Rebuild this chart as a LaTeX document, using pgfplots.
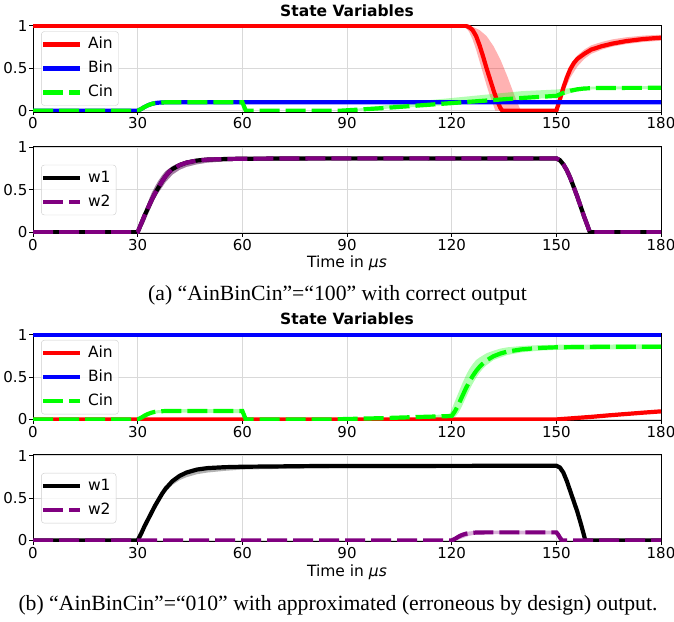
\documentclass[border=0pt]{standalone}
\usepackage{fontspec}
\setmainfont{Liberation Serif}
\newfontfamily\dv{DejaVu Sans}
\usepackage{pgfplots}
\pgfplotsset{compat=1.18}

\definecolor{mplgreen}{rgb}{0,1,0}
\definecolor{mplpurple}{rgb}{0.5,0,0.5}

\pgfplotsset{
  panel/.style={
    scale only axis, width=628pt, height=87pt,
    xmin=0, xmax=180, ymin=-0.015, ymax=1.01,
    xtick={0,30,...,180}, ytick={0,0.5,1},
    grid=major, major grid style={draw=black!15, line width=0.8pt},
    tick pos=left, tick align=outside, major tick length=3.5pt,
    tick style={black, line width=0.8pt}, axis line style={line width=0.9pt},
    /pgf/number format/assume math mode=true,
    tick label style={font=\dv\fontsize{15}{17}\selectfont, inner sep=2pt},
    legend style={at={(0.013,0.5)}, anchor=west, draw=black!20, rounded corners=3pt,
      fill=white, fill opacity=0.8, text opacity=1, inner xsep=0pt, inner ysep=6pt,
      row sep=10pt, font=\dv\fontsize{15.5}{18}\selectfont,
      nodes={inner xsep=5.5pt, inner ysep=0pt, text height=11.5pt, text depth=2.5pt}},
    legend cell align=left,
    legend image code/.code={\draw[#1] (0pt,0pt) -- (37pt,0pt);},
    title style={font=\dv\bfseries\fontsize{15.5}{18}\selectfont, yshift=-1pt},
    xlabel style={font=\dv\fontsize{15.5}{18}\selectfont, at={(0.5,0)}, anchor=base, yshift=-34.5pt},
  },
  band/.style={draw=none, fill=#1, fill opacity=0.3, forget plot},
  ln/.style={line width=4.2pt, #1},
  dsh/.style={line width=4.2pt, #1, dash pattern=on 20pt off 6pt},
}

\begin{document}
\begin{tikzpicture}
\path[use as bounding box] (0,0) rectangle (674pt,621pt);

% (a) top
\begin{axis}[panel, at={(33pt,509pt)}, anchor=south west, title={State Variables}]
\addplot[band=red] coordinates {(120,1) (124,1) (126,0.99) (128,0.95) (130,0.88) (132,0.76) (134,0.6) (136,0.4) (138,0.18) (139.5,0.03) (140,0) (150,0) (150.5,0.06) (151,0.17) (152,0.31) (153,0.43) (154,0.53) (156,0.65) (158,0.72) (160,0.77) (163,0.81) (166,0.84) (170,0.865) (175,0.885) (180,0.895)
 (180,0.825) (175,0.81) (170,0.785) (166,0.755) (163,0.72) (160,0.67) (158,0.61) (156,0.52) (154,0.39) (153,0.3) (152,0.2) (151,0.08) (150.5,0.01) (150,0) (132.5,0) (132,0.06) (131,0.17) (130,0.3) (129,0.44) (128,0.58) (127,0.72) (126,0.84) (125,0.93) (124,0.98) (123,1) (120,1)} -- cycle;
\addplot[band=mplgreen] coordinates {(88,0) (90,0.01) (100,0.06) (110,0.11) (120,0.15) (130,0.19) (140,0.23) (150,0.25) (155,0.27) (160,0.285) (180,0.29)
 (180,0.255) (160,0.25) (155,0.22) (150,0.155) (140,0.13) (130,0.1) (120,0.07) (110,0.045) (100,0.02) (90,0)} -- cycle;
\addplot[ln=red] coordinates {(0,1) (124,1) (125,0.985) (126,0.95) (127,0.88) (128,0.77) (129,0.64) (130,0.5) (131,0.37) (132,0.24) (133,0.12) (134,0.03) (134.5,0) (150,0) (151,0.13) (152,0.27) (153,0.39) (154,0.49) (155,0.56) (156,0.61) (158,0.67) (160,0.72) (163,0.76) (166,0.79) (170,0.82) (175,0.845) (180,0.86)};
\addlegendentry{Ain}
\addplot[ln=blue] coordinates {(0,0) (30,0) (31,0.02) (32,0.045) (33,0.065) (34,0.08) (35,0.09) (36,0.095) (38,0.099) (40,0.1) (180,0.1)};
\addlegendentry{Bin}
\addplot[dsh=mplgreen] coordinates {(0,0) (30,0) (31,0.02) (32,0.045) (33,0.065) (34,0.08) (35,0.09) (36,0.095) (38,0.099) (40,0.1) (60,0.1) (60.5,0.05) (61,0) (88,0) (90,0.005) (100,0.03) (110,0.06) (120,0.09) (130,0.12) (140,0.15) (150,0.175) (152,0.21) (154,0.235) (156,0.252) (158,0.262) (162,0.268) (180,0.27)};
\addlegendentry{Cin}
\end{axis}

% (a) bottom
\begin{axis}[panel, at={(33pt,387.5pt)}, anchor=south west, xlabel={Time in \textit{μs}}]
\addplot[band=black] coordinates {(30,0) (31,0.14) (32,0.25) (33,0.36) (34,0.46) (35,0.54) (36,0.61) (37,0.67) (38,0.72) (40,0.78) (42,0.82) (44,0.845) (47,0.862) (50,0.87) (60,0.877) (150,0.88) (151,0.87) (152,0.83) (153,0.77) (154,0.68) (155,0.57) (156,0.46) (157,0.34) (158,0.22) (159,0.1) (159.8,0)
 (160,0) (159.4,0) (158.6,0.06) (157.6,0.17) (156.6,0.29) (155.6,0.41) (154.6,0.52) (153.6,0.63) (152.6,0.72) (151.6,0.79) (150.6,0.83) (150,0.84) (60,0.845) (55,0.835) (50,0.82) (47,0.8) (44,0.77) (42,0.735) (40,0.68) (38,0.59) (37,0.53) (36,0.47) (35,0.4) (34,0.31) (33,0.22) (32,0.12) (31,0.04) (30,0)} -- cycle;
\addplot[band=mplpurple] coordinates {(30,0) (31,0.14) (32,0.25) (33,0.36) (34,0.46) (35,0.54) (36,0.61) (37,0.67) (38,0.72) (40,0.78) (42,0.82) (44,0.845) (47,0.862) (50,0.87) (60,0.877) (150,0.88) (151,0.87) (152,0.83) (153,0.77) (154,0.68) (155,0.57) (156,0.46) (157,0.34) (158,0.22) (159,0.1) (159.8,0)
 (160,0) (159.4,0) (158.6,0.06) (157.6,0.17) (156.6,0.29) (155.6,0.41) (154.6,0.52) (153.6,0.63) (152.6,0.72) (151.6,0.79) (150.6,0.83) (150,0.84) (60,0.845) (55,0.835) (50,0.82) (47,0.8) (44,0.77) (42,0.735) (40,0.68) (38,0.59) (37,0.53) (36,0.47) (35,0.4) (34,0.31) (33,0.22) (32,0.12) (31,0.04) (30,0)} -- cycle;
\addplot[ln=black] coordinates {(0,0) (30,0) (31,0.1) (32,0.2) (33,0.29) (34,0.38) (35,0.46) (36,0.53) (37,0.6) (38,0.66) (39,0.71) (40,0.745) (42,0.79) (44,0.82) (47,0.845) (50,0.856) (55,0.862) (60,0.866) (80,0.87) (150,0.87) (151,0.85) (152,0.8) (153,0.73) (154,0.64) (155,0.53) (156,0.42) (157,0.3) (158,0.18) (159,0.07) (159.6,0) (180,0)};
\addlegendentry{w1}
\addplot[dsh=mplpurple] coordinates {(0,0) (30,0) (31,0.1) (32,0.2) (33,0.29) (34,0.38) (35,0.46) (36,0.53) (37,0.6) (38,0.66) (39,0.71) (40,0.745) (42,0.79) (44,0.82) (47,0.845) (50,0.856) (55,0.862) (60,0.866) (80,0.87) (150,0.87) (151,0.85) (152,0.8) (153,0.73) (154,0.64) (155,0.53) (156,0.42) (157,0.3) (158,0.18) (159,0.07) (159.6,0) (180,0)};
\addlegendentry{w2}
\end{axis}

\node[font=\fontsize{21.7}{24}\selectfont, anchor=base] at (337.5pt,320pt) {(a) “AinBinCin”=“100” with correct output};

% (b) top
\begin{axis}[panel, at={(33pt,200.3pt)}, anchor=south west, title={State Variables}]
\addplot[band=red] coordinates {(150,0) (155,0.025) (160,0.045) (165,0.065) (170,0.08) (175,0.095) (180,0.11)
 (180,0.08) (175,0.065) (170,0.05) (165,0.035) (160,0.02) (155,0.005) (150,0)} -- cycle;
\addplot[band=mplgreen] coordinates {(30,0) (31,0.035) (32,0.06) (33,0.08) (34,0.095) (36,0.11) (40,0.12) (60,0.12) (60.5,0.06) (61,0)
 (61,0) (60,0.075) (40,0.08) (36,0.075) (34,0.06) (32,0.03) (31,0.01) (30,0)} -- cycle;
\addplot[band=mplgreen] coordinates {(110,0.04) (118,0.06) (119.5,0.07) (120,0.12) (121,0.22) (122,0.32) (123,0.42) (124,0.51) (125,0.59) (126,0.65) (127,0.7) (128,0.73) (130,0.78) (132,0.81) (134,0.835) (136,0.85) (140,0.865) (145,0.875) (150,0.88) (180,0.885)
 (180,0.83) (150,0.82) (145,0.81) (140,0.79) (136,0.76) (134,0.73) (132,0.7) (130,0.64) (129,0.6) (128,0.55) (127,0.49) (126,0.42) (125,0.34) (124,0.25) (123,0.16) (122,0.08) (121,0.03) (120,0.02) (110,0.015)} -- cycle;
\addplot[ln=red] coordinates {(0,0) (150,0) (155,0.015) (160,0.03) (165,0.048) (170,0.064) (175,0.08) (180,0.095)};
\addlegendentry{Ain}
\addplot[ln=blue] coordinates {(0,1) (180,1)};
\addlegendentry{Bin}
\addplot[dsh=mplgreen] coordinates {(0,0) (30,0) (31,0.02) (32,0.045) (33,0.065) (34,0.08) (35,0.09) (36,0.095) (38,0.099) (40,0.1) (60,0.1) (60.5,0.05) (61,0) (85,0) (100,0.015) (110,0.028) (120,0.04) (121,0.1) (122,0.18) (123,0.27) (124,0.36) (125,0.44) (126,0.51) (127,0.57) (128,0.62) (129,0.66) (130,0.695) (132,0.745) (134,0.777) (136,0.8) (140,0.825) (145,0.842) (150,0.85) (160,0.855) (180,0.857)};
\addlegendentry{Cin}
\end{axis}

% (b) bottom
\begin{axis}[panel, at={(33pt,79.3pt)}, anchor=south west, xlabel={Time in \textit{μs}}]
\addplot[band=black] coordinates {(30,0) (31,0.1) (32,0.19) (33,0.28) (34,0.36) (35,0.44) (36,0.51) (37,0.57) (38,0.63) (40,0.72) (42,0.78) (44,0.815) (47,0.845) (50,0.86) (55,0.87) (60,0.875) (80,0.882) (150,0.885) (151,0.87) (152,0.81) (153,0.71) (154,0.59) (155,0.47) (156,0.35) (157,0.21) (158,0.06) (158.4,0)
 (158.6,0) (158.2,0.04) (157.2,0.18) (156.2,0.31) (155.2,0.43) (154.2,0.55) (153.2,0.67) (152.2,0.77) (151.2,0.83) (150,0.855) (80,0.85) (60,0.835) (55,0.82) (50,0.8) (47,0.78) (44,0.745) (42,0.71) (40,0.655) (38,0.57) (37,0.51) (36,0.45) (35,0.38) (34,0.3) (33,0.22) (32,0.13) (31,0.05) (30,0)} -- cycle;
\addplot[band=mplpurple] coordinates {(119,0) (120,0.01) (121,0.04) (122,0.07) (123,0.09) (124,0.1) (126,0.11) (130,0.115) (150,0.115) (150.5,0.09) (151.5,0.03) (152.5,0)
 (153,0) (152,0) (151,0.03) (150,0.07) (130,0.075) (127,0.07) (125,0.055) (124,0.04) (123,0.025) (122,0.01) (121,0)} -- cycle;
\addplot[ln=black] coordinates {(0,0) (30,0) (31,0.08) (32,0.17) (33,0.25) (34,0.33) (35,0.41) (36,0.48) (37,0.55) (38,0.61) (40,0.7) (42,0.76) (44,0.8) (47,0.835) (50,0.852) (55,0.863) (60,0.868) (80,0.876) (150,0.88) (151,0.86) (152,0.8) (153,0.7) (154,0.58) (155,0.46) (156,0.34) (157,0.2) (158,0.05) (158.3,0) (180,0)};
\addlegendentry{w1}
\addplot[dsh=mplpurple] coordinates {(0,0) (120,0) (121,0.02) (122,0.045) (123,0.065) (124,0.078) (125,0.086) (127,0.093) (130,0.095) (150,0.095) (150.5,0.07) (151,0.035) (151.6,0) (180,0)};
\addlegendentry{w2}
\end{axis}

\node[font=\fontsize{21.7}{24}\selectfont, anchor=base] at (338pt,11pt) {(b) “AinBinCin”=“010” with approximated (erroneous by design) output.};
\end{tikzpicture}
\end{document}
